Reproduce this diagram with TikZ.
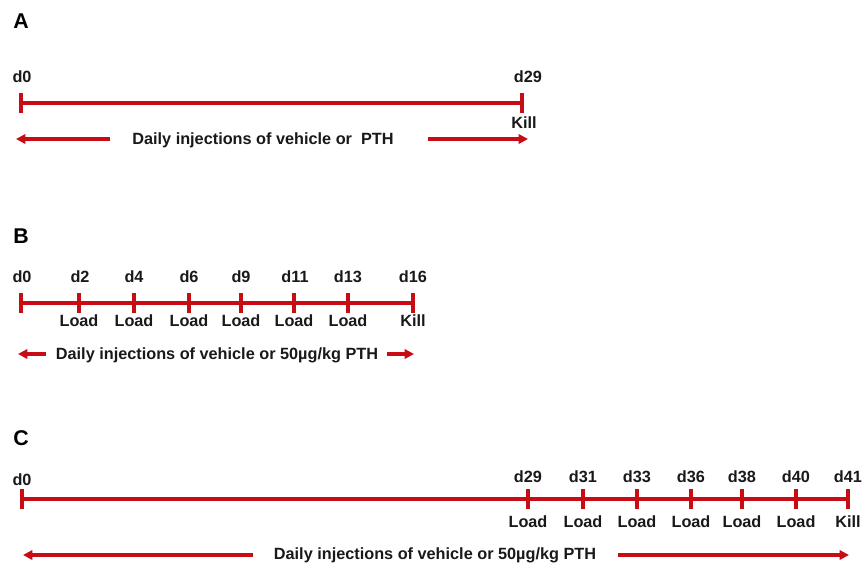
\documentclass[tikz,border=0pt]{standalone}
\usepackage{fontspec}
\setmainfont{Liberation Sans}
\usepackage{tikz}
\usetikzlibrary{arrows.meta}
\definecolor{timered}{RGB}{200,12,22}
\tikzstyle{panel}=[font=\fontsize{16}{18}\selectfont\bfseries, inner sep=0pt]
\tikzstyle{day}=[font=\fontsize{12.2}{14}\selectfont\bfseries, inner sep=0pt, text=black!90]
\tikzstyle{daytick}=[rectangle, fill=timered, minimum width=2.3pt, minimum height=14.5pt, inner sep=0pt]
\tikzstyle{timeline}=[draw=timered, line width=2.3pt]
\tikzstyle{injarrow}=[draw=timered, line width=2.3pt, -{Triangle[length=7pt,width=7pt]}]

\begin{document}
\begin{tikzpicture}[x=0.75pt, y=-0.75pt]
          \useasboundingbox (0,0) rectangle (865,569);
          \node[panel] (labA) at (21,21) {A};
          \node[day] (dA0) at (22,77) {d0};
          \node[day] (dA29) at (528,77) {d29};
          \node[daytick] (tA0) at (21,103) {};
          \node[daytick] (tA29) at (522,103) {};
          \draw[timeline](tA0) -- (tA29);
          \node[day] (kA) at (524,123) {Kill};
          \node[day] (injA) at (263,140) {Daily injections of vehicle or\ \ PTH};
          \coordinate (aA0) at (16,139);
          \coordinate (aA1) at (110,139);
          \coordinate (aA2) at (428,139);
          \coordinate (aA3) at (528,139);
          \draw[injarrow](aA1) -- (aA0);
          \draw[injarrow](aA2) -- (aA3);
          \node[panel] (labB) at (21,236) {B};
          \node[daytick] (tB0) at (21,303) {};
          \node[daytick] (tB2) at (79,303) {};
          \node[daytick] (tB4) at (134,303) {};
          \node[daytick] (tB6) at (189,303) {};
          \node[daytick] (tB9) at (241,303) {};
          \node[daytick] (tB11) at (294,303) {};
          \node[daytick] (tB13) at (348,303) {};
          \node[daytick] (tB16) at (413,303) {};
          \draw[timeline](tB0) -- (tB2);
          \draw[timeline](tB2) -- (tB4);
          \draw[timeline](tB4) -- (tB6);
          \draw[timeline](tB6) -- (tB9);
          \draw[timeline](tB9) -- (tB11);
          \draw[timeline](tB11) -- (tB13);
          \draw[timeline](tB13) -- (tB16);
          \node[day] (dB0) at (22,277) {d0};
          \node[day] (dB2) at (80,277) {d2};
          \node[day] (dB4) at (134,277) {d4};
          \node[day] (dB6) at (189,277) {d6};
          \node[day] (dB9) at (241,277) {d9};
          \node[day] (dB11) at (295,277) {d11};
          \node[day] (dB13) at (348,277) {d13};
          \node[day] (dB16) at (413,277) {d16};
          \node[day] (lB2) at (79,321) {Load};
          \node[day] (lB4) at (134,321) {Load};
          \node[day] (lB6) at (189,321) {Load};
          \node[day] (lB9) at (241,321) {Load};
          \node[day] (lB11) at (294,321) {Load};
          \node[day] (lB13) at (348,321) {Load};
          \node[day] (kB) at (413,321) {Kill};
          \node[day] (injB) at (217,355) {Daily injections of vehicle or 50µg/kg PTH};
          \coordinate (aB0) at (18,354);
          \coordinate (aB1) at (46,354);
          \coordinate (aB2) at (387,354);
          \coordinate (aB3) at (414,354);
          \draw[injarrow](aB1) -- (aB0);
          \draw[injarrow](aB2) -- (aB3);
          \node[panel] (labC) at (21,438) {C};
          \node[daytick] (tC0) at (22,499) {};
          \node[daytick] (tC29) at (528,499) {};
          \node[daytick] (tC31) at (583,499) {};
          \node[daytick] (tC33) at (637,499) {};
          \node[daytick] (tC36) at (691,499) {};
          \node[daytick] (tC38) at (742,499) {};
          \node[daytick] (tC40) at (796,499) {};
          \node[daytick] (tC41) at (848,499) {};
          \draw[timeline](tC0) -- (tC29);
          \draw[timeline](tC29) -- (tC31);
          \draw[timeline](tC31) -- (tC33);
          \draw[timeline](tC33) -- (tC36);
          \draw[timeline](tC36) -- (tC38);
          \draw[timeline](tC38) -- (tC40);
          \draw[timeline](tC40) -- (tC41);
          \node[day] (dC0) at (22,480) {d0};
          \node[day] (dC29) at (528,477) {d29};
          \node[day] (dC31) at (583,477) {d31};
          \node[day] (dC33) at (637,477) {d33};
          \node[day] (dC36) at (691,477) {d36};
          \node[day] (dC38) at (742,477) {d38};
          \node[day] (dC40) at (796,477) {d40};
          \node[day] (dC41) at (848,477) {d41};
          \node[day] (lC29) at (528,522) {Load};
          \node[day] (lC31) at (583,522) {Load};
          \node[day] (lC33) at (637,522) {Load};
          \node[day] (lC36) at (691,522) {Load};
          \node[day] (lC38) at (742,522) {Load};
          \node[day] (lC40) at (796,522) {Load};
          \node[day] (kC) at (848,522) {Kill};
          \node[day] (injC) at (435,555) {Daily injections of vehicle or 50µg/kg PTH};
          \coordinate (aC0) at (23,555);
          \coordinate (aC1) at (253,555);
          \coordinate (aC2) at (618,555);
          \coordinate (aC3) at (849,555);
          \draw[injarrow](aC1) -- (aC0);
          \draw[injarrow](aC2) -- (aC3);
        \end{tikzpicture}
\end{document}
